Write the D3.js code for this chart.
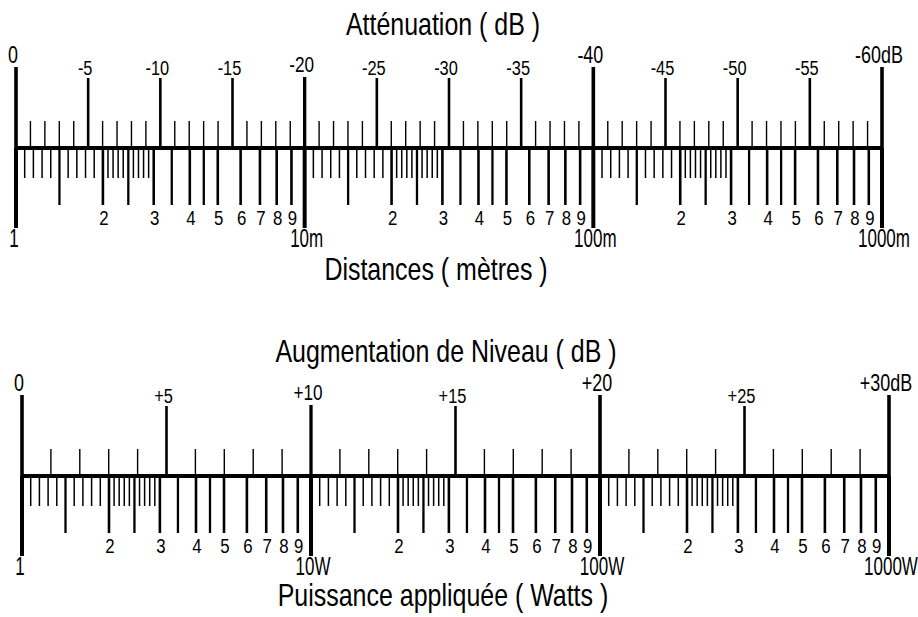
<!DOCTYPE html>
<html><head><meta charset="utf-8">
<script src="https://cdn.jsdelivr.net/npm/d3@7"></script>
<style>
body{margin:0;background:#fff}
svg{display:block}
text{font-family:"Liberation Sans",Arial,Helvetica,sans-serif;fill:#000}
</style>
</head><body>
<svg id="c" width="918" height="617"></svg>
<script>
// ---- Data ----
const topTitle = "Atténuation ( dB )";
const topSubTitle = "Distances ( mètres )";
const botTitle = "Augmentation de Niveau ( dB )";
const botSubTitle = "Puissance appliquée ( Watts )";
const attenDb = [0,-5,-10,-15,-20,-25,-30,-35,-40,-45,-50,-55,-60];
const attenLabels = ["0","-5","-10","-15","-20","-25","-30","-35","-40","-45","-50","-55","-60dB"];
const gainDb = [0,5,10,15,20,25,30];
const gainLabels = ["0","+5","+10","+15","+20","+25","+30dB"];
const decades = [1,10,100,1000];
const distDecadeLabels = ["1","10m","100m","1000m"];
const powerDecadeLabels = ["1","10W","100W","1000W"];
const mantissaMajor = [2,3,4,5,6,7,8,9];
const mantissaHalf = [1.5,2.5,3.5,4.5];
const mantissaMinor = [1.1,1.2,1.3,1.4,1.6,1.7,1.8,1.9,2.1,2.2,2.3,2.4,2.6,2.7,2.8,2.9];

const svg = d3.select("#c");

function valueScale(x0, x1){
  const log = d3.scaleLog().domain([1,1000]).range([x0,x1]);
  const knots = [];
  decades.slice(0,3).forEach(d => { knots.push(d); mantissaMajor.forEach(m => knots.push(m*d)); });
  knots.push(1000);
  // piecewise-linear between the logarithmic main graduations, as on the drawn ruler
  return d3.scaleLinear().domain(knots).range(knots.map(log));
}

function label(g, x, y, txt, size, sx){
  g.append("text")
    .attr("transform", `translate(${x},${y}) scale(${sx},1)`)
    .attr("text-anchor","middle")
    .attr("font-size", size)
    .text(txt);
}

function vline(g, data, xf, y1, y2, w){
  g.append("g").selectAll("line").data(data).join("line")
    .attr("x1", xf).attr("x2", xf)
    .attr("y1", y1).attr("y2", y2)
    .attr("stroke","#000").attr("stroke-width", w);
}

function panel(cfg){
  const g = svg.append("g");
  const y = cfg.axisY;
  const dbEnd = cfg.db[cfg.db.length-1];
  const db = d3.scaleLinear().domain([cfg.db[0], dbEnd]).range([cfg.x0, cfg.x1]);
  const val = valueScale(cfg.x0, cfg.x1);
  const perDecade = Math.abs(dbEnd)/3;

  // dB minor graduations (1 dB)
  const minor = db.ticks(Math.abs(dbEnd)).filter(v => Math.abs(v) % 5 !== 0);
  vline(g, minor, d => db(d), y-27, y, 1.4);

  // dB labelled graduations
  const kind = v => {
    const k = Math.abs(v)/perDecade;
    if (Number.isInteger(k)) return k === 1 ? "mid" : "long";
    return "std";
  };
  const topOf = {long: y-81, mid: y-71, std: y-70};
  const wOf = {long: 3.6, mid: 3.3, std: 2.6};
  cfg.db.forEach((v,i) => {
    const k = kind(v);
    g.append("line").attr("x1", db(v)).attr("x2", db(v))
      .attr("y1", topOf[k]).attr("y2", y)
      .attr("stroke","#000").attr("stroke-width", wOf[k]);
    const ly = k === "long" ? y-85 : (k === "mid" ? y-76 : y-73);
    const fs = k === "long" ? 23 : (k === "mid" ? 22 : 21);
    label(g, db(v) - 3, ly, cfg.dbLabels[i], fs, 0.78);
  });

  // value graduations below the line
  const lowDec = decades.slice(0,3);
  const minorVals = lowDec.flatMap(d => mantissaMinor.map(m => m*d));
  const halfVals = lowDec.flatMap(d => mantissaHalf.map(m => m*d));
  const majorVals = lowDec.flatMap(d => mantissaMajor.map(m => ({v: m*d, t: String(m)})));
  vline(g, minorVals, d => val(d), y, y+30, 1.5);
  vline(g, halfVals, d => val(d), y, y+57, 2.3);
  vline(g, majorVals, d => val(d.v), y, y+57, 2.6);
  vline(g, decades, d => val(d), y, y+80, 4);
  majorVals.forEach(d => label(g, val(d.v) + 1, y+77, d.t, 21, 0.8));
  decades.forEach((d,i) => {
    const dx = i === 0 ? -2 : 2;
    label(g, val(d) + dx, y+99, cfg.valLabels[i], 25, 0.68);
  });

  // main line
  g.append("line").attr("x1", cfg.x0).attr("x2", cfg.x1)
    .attr("y1", y).attr("y2", y).attr("stroke","#000").attr("stroke-width", 4);

  label(g, cfg.titleX, cfg.titleY, cfg.title, 32, 0.78);
  label(g, cfg.subX, cfg.subY, cfg.sub, 32, 0.78);
}

panel({x0:16, x1:882, axisY:148, db:attenDb, dbLabels:attenLabels, valLabels:distDecadeLabels,
       title:topTitle, titleX:443, titleY:35, sub:topSubTitle, subX:436, subY:280});
panel({x0:22, x1:889, axisY:476, db:gainDb, dbLabels:gainLabels, valLabels:powerDecadeLabels,
       title:botTitle, titleX:446, titleY:362, sub:botSubTitle, subX:443, subY:606});
</script>
</body></html>
